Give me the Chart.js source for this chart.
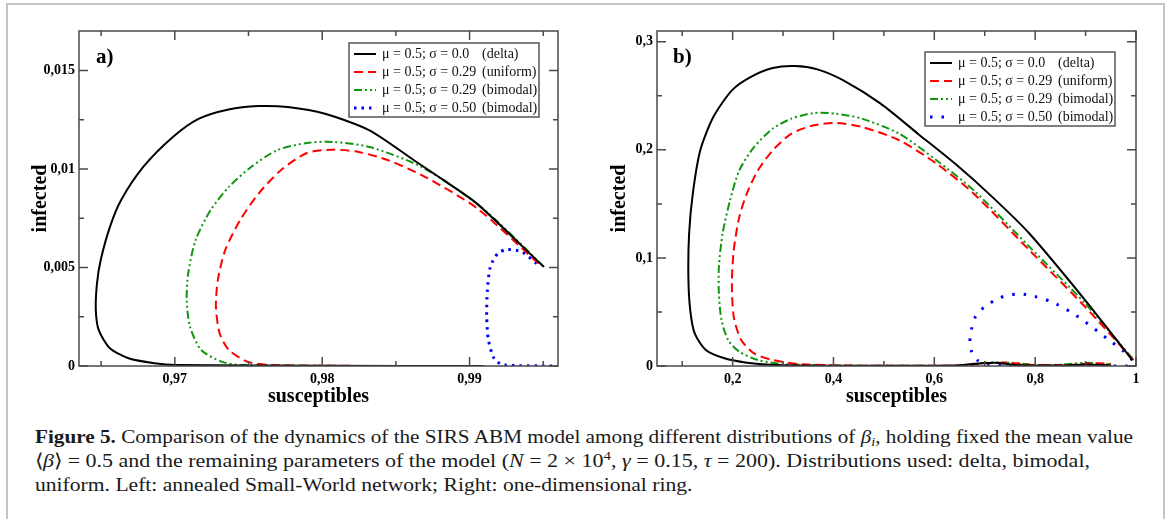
<!DOCTYPE html>
<html>
<head>
<meta charset="utf-8">
<script src="https://cdn.jsdelivr.net/npm/chart.js@4.4.1/dist/chart.umd.min.js"></script>
<style>
  body { margin: 0; background: #fff; width: 1167px; height: 519px; overflow: hidden; position: relative; font-family: "Liberation Serif", serif; }
  #frame { position: absolute; left: 6px; top: 3px; width: 1155px; height: 560px; border: 2px solid #c4c4c4; }
  #left { position: absolute; left: 0; top: 0; }
  #right { position: absolute; left: 580px; top: 0; }
  .cap { position: absolute; left: 35px; font-size: 19px; line-height: 24px; white-space: nowrap; color: #1a1a1a; transform-origin: 0 50%; }
  .sub { font-size: 13px; vertical-align: -3px; line-height: 0; }
  .sup { font-size: 13px; vertical-align: 7px; line-height: 0; }
</style>
</head>
<body>
<div id="frame"></div>
<canvas id="left" width="580" height="420"></canvas>
<canvas id="right" width="587" height="420"></canvas>
<div class="cap" id="cap1" style="top:425px"><b>Figure 5.</b> Comparison of the dynamics of the SIRS ABM model among different distributions of <i>β</i><span class="sub"><i>i</i></span>, holding fixed the mean value</div>
<div class="cap" id="cap2" style="top:449px">⟨<i>β</i>⟩ = 0.5 and the remaining parameters of the model (<i>N</i> = 2 × 10<span class="sup">4</span>, <i>γ</i> = 0.15, <i>τ</i> = 200). Distributions used: delta, bimodal,</div>
<div class="cap" id="cap3" style="top:473px">uniform. Left: annealed Small-World network; Right: one-dimensional ring.</div>
<script>
// legend texts
var legendMain = ['μ = 0.5; σ = 0.0', 'μ = 0.5; σ = 0.29', 'μ = 0.5; σ = 0.29', 'μ = 0.5; σ = 0.50'];
var legendKind = ['(delta)', '(uniform)', '(bimodal)', '(bimodal)'];

// panel a) : [susceptibles, infected]
var leftDelta = [[0.99503,0.00503],[0.9905,0.00824],[0.98824,0.00943],[0.98623,0.01044],[0.98321,0.01196],[0.98019,0.0128],[0.97767,0.01314],[0.97566,0.01319],[0.97365,0.01302],[0.97164,0.01255],[0.96987,0.01162],[0.96786,0.0101],[0.96635,0.00841],[0.9656,0.00706],[0.96497,0.00537],[0.96472,0.00419],[0.96464,0.00284],[0.96484,0.00182],[0.9656,0.0009],[0.96686,0.00039],[0.96862,0.00014],[0.97013,0.00005],[0.98,0.00001],[0.991,0]];
var leftUniform = [[0.99468,0.0052],[0.99053,0.00799],[0.987,0.00959],[0.98449,0.01044],[0.98248,0.01086],[0.98072,0.01098],[0.97896,0.01081],[0.97719,0.00993],[0.97568,0.00875],[0.97443,0.0074],[0.97342,0.00588],[0.97292,0.00436],[0.97279,0.003],[0.97304,0.00166],[0.97367,0.00081],[0.97493,0.00022],[0.97644,0.00005],[0.985,0],[0.991,0]];
var leftBimodal = [[0.99506,0.00503],[0.99078,0.00807],[0.98675,0.0101],[0.98323,0.01111],[0.98072,0.01137],[0.97896,0.01132],[0.97694,0.01095],[0.97518,0.0101],[0.97367,0.00909],[0.97242,0.0079],[0.97141,0.00639],[0.97091,0.0047],[0.97081,0.00334],[0.97103,0.00199],[0.97179,0.00081],[0.97317,0.00022],[0.97443,0.00005],[0.985,0],[0.991,0]];
var leftBimodal50 = [[0.99455,0.0052],[0.99355,0.00579],[0.99254,0.00591],[0.99191,0.00571],[0.99141,0.00503],[0.99121,0.00385],[0.99116,0.0025],[0.99128,0.00132],[0.99166,0.00039],[0.99229,0.00005],[0.9959,0]];

// panel b)
var rightDelta = [[0.9927,0.0055],[0.899,0.061],[0.7885,0.1226],[0.7148,0.1565],[0.641,0.1873],[0.5673,0.215],[0.4936,0.2428],[0.4197,0.2643],[0.3681,0.2745],[0.3239,0.2776],[0.2796,0.2758],[0.2354,0.2674],[0.1985,0.2551],[0.1617,0.2304],[0.1358,0.1996],[0.121,0.1596],[0.1137,0.1226],[0.1122,0.0825],[0.1159,0.0518],[0.1248,0.0302],[0.1469,0.0148],[0.1838,0.0071],[0.2281,0.0031],[0.287,0.0009],[0.45,0.0002],[0.64,0.0005],[0.68,0.002],[0.72,0.003],[0.76,0.001],[0.85,0.0005],[0.9,0.0015],[0.95,0.0008]];
var rightUniform = [[0.9949,0.0055],[0.899,0.0548],[0.7885,0.1072],[0.6779,0.1596],[0.6042,0.1873],[0.5303,0.2089],[0.4566,0.2212],[0.4051,0.2249],[0.3608,0.2227],[0.3166,0.215],[0.2796,0.1996],[0.2502,0.1811],[0.2281,0.1596],[0.2133,0.138],[0.2022,0.1072],[0.1985,0.0764],[0.2022,0.0456],[0.217,0.024],[0.2427,0.0117],[0.2796,0.0055],[0.3312,0.0018],[0.45,0.0003],[0.66,0.0005],[0.7,0.0025],[0.75,0.003],[0.79,0.001],[0.87,0.001],[0.91,0.0025],[0.95,0.002]];
var rightBimodal = [[0.9927,0.0071],[0.899,0.058],[0.7885,0.1103],[0.6779,0.1627],[0.6042,0.1904],[0.5303,0.215],[0.4566,0.2289],[0.4051,0.2335],[0.3608,0.2341],[0.3166,0.2289],[0.2796,0.2197],[0.2427,0.2027],[0.2133,0.1811],[0.1949,0.1534],[0.1801,0.1226],[0.1727,0.0918],[0.1727,0.0672],[0.1779,0.0425],[0.1912,0.024],[0.2133,0.0132],[0.2502,0.0055],[0.3018,0.0018],[0.45,0.0003],[0.66,0.0005],[0.7,0.003],[0.76,0.0028],[0.8,0.001],[0.85,0.0012],[0.9,0.003],[0.95,0.0015]];
var rightBimodal50 = [[0.9927,0.0055],[0.9728,0.0148],[0.9507,0.0225],[0.925,0.0317],[0.899,0.041],[0.8697,0.0502],[0.8327,0.0594],[0.7885,0.0656],[0.7612,0.0665],[0.7294,0.0631],[0.7,0.0548],[0.6816,0.0456],[0.6741,0.0348],[0.6705,0.0225],[0.6741,0.0132],[0.6852,0.0055],[0.7073,0.0009],[0.8,0.0002],[0.984,0]];

// ticks
var leftXMajor = [0.97, 0.98, 0.99];
var leftXMinor = [0.965, 0.975, 0.985, 0.995];
var leftYMajor = [0, 0.005, 0.01, 0.015];
var leftYMinor = [0.0025, 0.0075, 0.0125];
var rightXMajor = [0.2, 0.4, 0.6, 0.8, 1];
var rightXMinor = [0.1, 0.3, 0.5, 0.7, 0.9];
var rightYMajor = [0, 0.1, 0.2, 0.3];
var rightYMinor = [0.05, 0.15, 0.25];

var seriesColors = ['#000000', '#ff0000', '#129612', '#0000ff'];
var seriesWidths = [2, 2, 2, 3];
var serif = "'Liberation Serif', 'Times New Roman', serif";
var frameColor = '#4a4a4a';

function fmt(v) {
  return String(+(+v).toFixed(4)).replace('.', ',');
}

function makePanel(id, cfg) {
  var framePlugin = {
    id: 'frameTicks',
    afterDatasetsDraw: function (chart) {
      var ctx = chart.ctx, a = chart.chartArea, sx = chart.scales.x, sy = chart.scales.y;
      ctx.save();
      ctx.strokeStyle = frameColor;
      ctx.lineWidth = 1.5;
      ctx.setLineDash([]);
      ctx.strokeRect(a.left, a.top, a.right - a.left, a.bottom - a.top);
      function xt(vals, len) {
        vals.forEach(function (v) {
          var px = sx.getPixelForValue(v);
          ctx.beginPath();
          ctx.moveTo(px, a.bottom); ctx.lineTo(px, a.bottom - len);
          ctx.moveTo(px, a.top); ctx.lineTo(px, a.top + len);
          ctx.stroke();
        });
      }
      function yt(vals, len) {
        vals.forEach(function (v) {
          var py = sy.getPixelForValue(v);
          ctx.beginPath();
          ctx.moveTo(a.left, py); ctx.lineTo(a.left + len, py);
          ctx.moveTo(a.right, py); ctx.lineTo(a.right - len, py);
          ctx.stroke();
        });
      }
      xt(cfg.xMajor, 9); xt(cfg.xMinor, 5);
      yt(cfg.yMajor, 9); yt(cfg.yMinor, 5);

      // panel label
      ctx.fillStyle = '#000';
      ctx.font = 'bold 21px ' + serif;
      ctx.textBaseline = 'middle';
      ctx.textAlign = 'left';
      ctx.fillText(cfg.tag, cfg.tagPos[0], cfg.tagPos[1]);

      // legend box
      var L = cfg.legendBox;
      ctx.fillStyle = '#fff';
      ctx.fillRect(L.x, L.y, L.w, L.h);
      ctx.strokeStyle = '#555';
      ctx.lineWidth = 1.5;
      ctx.strokeRect(L.x, L.y, L.w, L.h);
      ctx.font = '14px ' + serif;
      chart.data.datasets.forEach(function (ds, k) {
        var ry = L.y + 11 + k * 18;
        ctx.strokeStyle = ds.borderColor;
        ctx.lineWidth = ds.borderWidth;
        ctx.setLineDash(ds.borderDash || []);
        ctx.beginPath();
        ctx.moveTo(L.x + 5, ry); ctx.lineTo(L.x + 27, ry);
        ctx.stroke();
        ctx.setLineDash([]);
        ctx.fillStyle = '#111';
        ctx.fillText(legendMain[k], L.x + 33, ry);
        ctx.fillText(legendKind[k], L.x + 133, ry);
      });
      ctx.restore();
    }
  };

  return new Chart(document.getElementById(id), {
    type: 'scatter',
    data: {
      datasets: cfg.series.map(function (pts, k) {
        return {
          label: legendMain[k] + ' ' + legendKind[k],
          data: pts.map(function (p) { return { x: p[0], y: p[1] }; }),
          showLine: true,
          pointRadius: 0,
          borderColor: seriesColors[k],
          borderWidth: seriesWidths[k],
          borderDash: cfg.dashes[k],
          tension: 0.25,
          fill: false
        };
      })
    },
    options: {
      responsive: false,
      animation: false,
      layout: { padding: cfg.padding },
      plugins: { legend: { display: false }, tooltip: { enabled: false } },
      scales: {
        x: {
          type: 'linear', min: cfg.xRange[0], max: cfg.xRange[1],
          afterBuildTicks: function (s) { s.ticks = cfg.xMajor.map(function (v) { return { value: v }; }); },
          afterFit: function (s) { s.height = cfg.xHeight; },
          grid: { display: false, drawTicks: false },
          border: { display: false },
          ticks: { callback: fmt, color: '#000', padding: 5, maxRotation: 0, autoSkip: false, font: { family: serif, size: 14, weight: 'bold' } },
          title: { display: true, text: 'susceptibles', color: '#000', font: { family: serif, size: 20, weight: 'bold' }, padding: { top: 0, bottom: cfg.xTitlePad } }
        },
        y: {
          type: 'linear', min: cfg.yRange[0], max: cfg.yRange[1],
          afterBuildTicks: function (s) { s.ticks = cfg.yMajor.map(function (v) { return { value: v }; }); },
          afterFit: function (s) { s.width = cfg.yWidth; },
          grid: { display: false, drawTicks: false },
          border: { display: false },
          ticks: { callback: fmt, color: '#000', padding: 4, autoSkip: false, font: { family: serif, size: 14, weight: 'bold' } },
          title: { display: true, text: 'infected', color: '#000', font: { family: serif, size: 20, weight: 'bold' }, padding: { top: cfg.yTitlePad, bottom: 0 } }
        }
      }
    },
    plugins: [framePlugin]
  });
}

makePanel('left', {
  series: [leftDelta, leftUniform, leftBimodal, leftBimodal50],
  dashes: [[], [9, 5], [8, 3, 2, 3, 2, 3], [2.5, 5]],
  xRange: [0.9635, 0.996], yRange: [0, 0.017],
  xMajor: leftXMajor, xMinor: leftXMinor, yMajor: leftYMajor, yMinor: leftYMinor,
  padding: { left: 0, top: 31, right: 22, bottom: 0 },
  yWidth: 79, xHeight: 54, xTitlePad: 11, yTitlePad: 29,
  tag: 'a)', tagPos: [96, 58],
  legendBox: { x: 349, y: 43, w: 190, h: 74 }
});

makePanel('right', {
  series: [rightDelta, rightUniform, rightBimodal, rightBimodal50],
  dashes: [[], [9, 5], [8, 3, 2, 3, 2, 3], [2.5, 9]],
  xRange: [0.05, 1.0], yRange: [0, 0.31],
  xMajor: rightXMajor, xMinor: rightXMinor, yMajor: rightYMajor, yMinor: rightYMinor,
  padding: { left: 0, top: 31, right: 31, bottom: 0 },
  yWidth: 77, xHeight: 54, xTitlePad: 11, yTitlePad: 28,
  tag: 'b)', tagPos: [93, 58],
  legendBox: { x: 345, y: 52, w: 190, h: 74 }
});

// fit caption lines to the measured widths
var targets = { cap1: 1098, cap2: 1055 };
var scales = [];
['cap1', 'cap2'].forEach(function (id) {
  var el = document.getElementById(id);
  var k = targets[id] / el.getBoundingClientRect().width;
  scales.push(k);
  el.style.transform = 'scaleX(' + k + ')';
});
document.getElementById('cap3').style.transform = 'scaleX(' + ((scales[0] + scales[1]) / 2) + ')';
</script>
</body>
</html>
